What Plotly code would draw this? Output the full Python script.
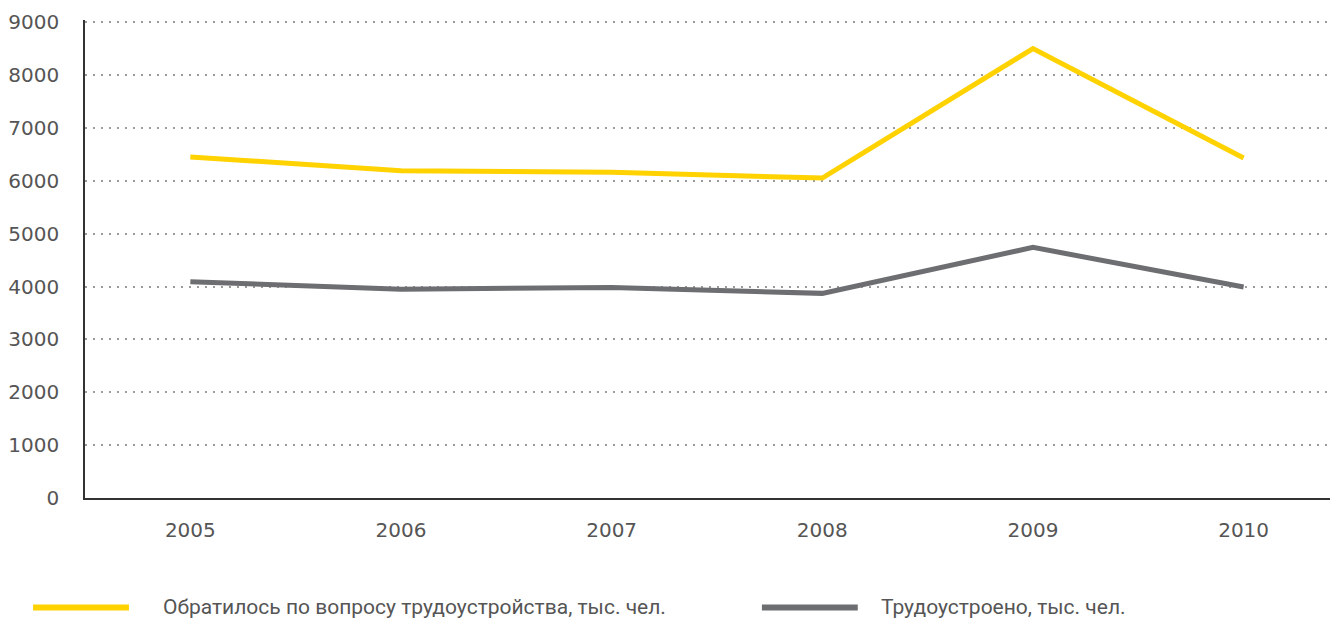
import plotly.graph_objects as go

years = ["2005", "2006", "2007", "2008", "2009", "2010"]
applied = [6450, 6190, 6160, 6050, 8500, 6430]
employed = [4090, 3950, 3980, 3870, 4740, 3990]
series_names = ["Обратилось по вопросу трудоустройства, тыс. чел.", "Трудоустроено, тыс. чел."]
series_colors = ["#FFD200", "#6D6E71"]
y_ticks = [0, 1000, 2000, 3000, 4000, 5000, 6000, 7000, 8000, 9000]

OFF = 8  # page body margin
W, H = 1338 - OFF, 618 - OFF
# desired plot area in page pixels
PL, PT, PR, PB = 83, 22.2, 1338, 497.7
Y_TOP = 9040
ph_data = PB - PT  # pixels for 0..9000
ppu = ph_data / 9000
PT2 = PB - Y_TOP * ppu
L = PL - OFF
R = 0
T = PT2 - OFF
B = H - (PB - OFF)
pw = (PR - OFF) - L
ph = H - T - B

fig = go.Figure()
for vals, name, col in zip([applied, employed], series_names, series_colors):
    fig.add_trace(go.Scatter(x=years, y=vals, mode="lines", name=name,
                             line=dict(color=col, width=5), showlegend=False))

def px_x(px):
    return (px - PL) / pw

def px_y(py):
    return (PB - py) / ph

legend_pos = [(31, 127, 159), (761, 857, 878)]
ly = 607
for (x0, x1, tx), name, col in zip(legend_pos, series_names, series_colors):
    fig.add_shape(type="line", xref="paper", yref="paper",
                  x0=px_x(x0), x1=px_x(x1), y0=px_y(ly), y1=px_y(ly),
                  line=dict(color=col, width=6))
    fig.add_annotation(xref="paper", yref="paper", x=px_x(tx), y=px_y(ly),
                       xanchor="left", yanchor="middle", showarrow=False,
                       text=name, font=dict(family="Roboto, sans-serif",
                                            size=21, color="#555555"))

fig.update_layout(
    width=W, height=H,
    margin=dict(l=L, r=R, t=T, b=B, pad=0),
    plot_bgcolor="white", paper_bgcolor="white",
    font=dict(family="DejaVu Sans, Verdana, sans-serif", size=20, color="#555555"),
    xaxis=dict(type="category", range=[-0.5, 5.448], showgrid=False,
               showline=True, linecolor="#333333", linewidth=1.5,
               ticks="", ticklabelstandoff=13, tickfont=dict(size=20, color="#555555"),
               fixedrange=True),
    yaxis=dict(range=[0, Y_TOP], tickvals=y_ticks, showgrid=True,
               gridcolor="#9a9a9a", gridwidth=1.5, griddash="2px,6px",
               showline=True, linecolor="#333333", linewidth=1.5,
               zeroline=False, ticks="", ticklabelstandoff=20,
               tickfont=dict(size=20, color="#555555"), fixedrange=True),
)

fig.write_html("out.html")
